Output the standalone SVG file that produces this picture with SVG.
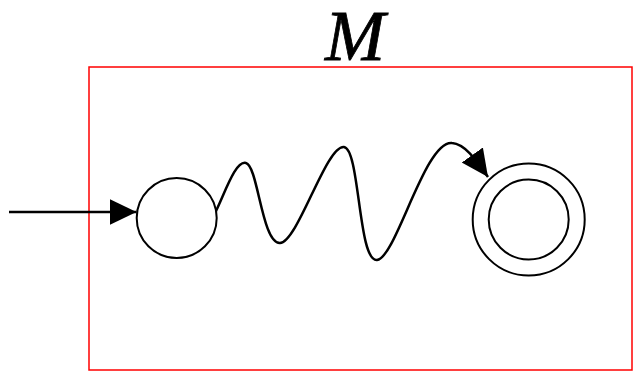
<svg xmlns="http://www.w3.org/2000/svg" width="633" height="372" viewBox="0 0 633 372">
<style>
.state{fill:#fff;stroke:#000;stroke-width:2}
.edge{fill:none;stroke:#000;stroke-width:2.5}
.label{font-family:"Liberation Serif",serif;font-style:italic;font-size:72px;fill:#000;stroke:#000;stroke-width:0.8}
</style>
<defs>
<marker id="arr" markerUnits="userSpaceOnUse" markerWidth="28" markerHeight="28" refX="27" refY="13" orient="auto">
<path d="M0,0 L27,13 L0,26 z" fill="#000"/>
</marker>
</defs>
<rect x="89" y="67" width="543" height="303" fill="none" stroke="#f00" stroke-width="1.5"/>
<text class="label" x="355" y="60" text-anchor="middle">M</text>
<g id="start">
<circle class="state" cx="176.7" cy="218" r="40"/>
</g>
<g id="final">
<circle class="state" cx="528.7" cy="219.5" r="56"/>
<circle class="state" cx="528.7" cy="219.5" r="40"/>
</g>
<g id="connectors">
<line class="edge" x1="9" y1="212" x2="136.5" y2="212" marker-end="url(#arr)"/>
<path class="edge" d="M216,211 C226,190 236,160 246,163 C258,166 262,244 280,243 C298,242 326,145 344,147 C360,149 358,262 377,260 C396,258 425,140 452,143 C466,144 478,163 488,177" marker-end="url(#arr)"/>
</g>
</svg>
